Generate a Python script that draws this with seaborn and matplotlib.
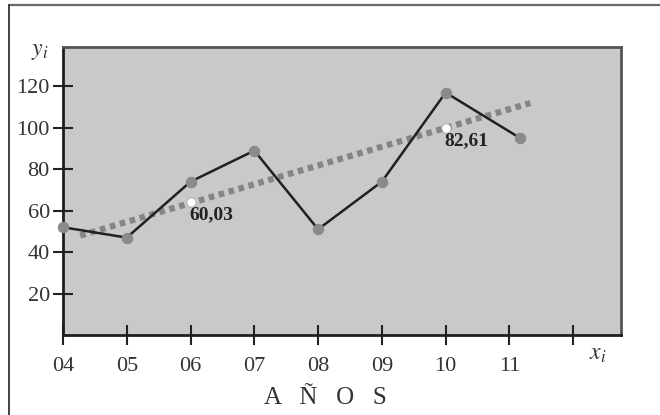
import numpy as np
import pandas as pd
import seaborn as sns
import matplotlib.pyplot as plt
from matplotlib.lines import Line2D

# observed values per year
years = [4, 5, 6, 7, 8, 9, 10, 11.17]
values = [52, 47, 74, 89, 51, 74, 117, 95]

# trend line (drawn ends) and the two estimated points
trend_x = [4.27, 11.33]
trend_y = [48, 112]
est_x = [6, 10]
est_y = [64, 100]
est_labels = ["60,03", "82,61"]

xticks = [4, 5, 6, 7, 8, 9, 10, 11, 12]
xtick_labels = ["04", "05", "06", "07", "08", "09", "10", "11", ""]
yticks = [20, 40, 60, 80, 100, 120]

sns.set_style("white")
plt.rcParams['font.family'] = ['Liberation Serif', 'DejaVu Serif']
plt.rcParams['mathtext.fontset'] = 'stix'

df = pd.DataFrame({"x": years, "y": values})
df_trend = pd.DataFrame({"x": trend_x, "y": trend_y})
df_est = pd.DataFrame({"x": est_x, "y": est_y})

fig = plt.figure(figsize=(6.6, 4.15), dpi=100)
ax = fig.add_axes([63 / 660, 1 - 335 / 415, 558 / 660, 288 / 415])
ax.set_facecolor("#c8c9cb")

sns.lineplot(data=df_trend, x="x", y="y", ax=ax, color="#858585", lw=4.5,
             linestyle=(0, (0.9, 0.75)), zorder=2)
sns.lineplot(data=df, x="x", y="y", ax=ax, color="#202020", lw=1.8, zorder=3,
             marker="o", markersize=7.5, markerfacecolor="#8a8a8a",
             markeredgecolor="#8a8a8a", clip_on=False)
sns.scatterplot(data=df_est, x="x", y="y", ax=ax, color="white", s=45,
                edgecolor="#9a9a9a", linewidth=0.5, zorder=4)

for xv, yv, lab in zip(est_x, est_y, est_labels):
    ax.text(xv + 0.33, yv - 2, lab, ha="center", va="top", fontsize=14,
            fontweight="bold", color="#222222")

ax.set_xlim(4, 12.75)
ax.set_ylim(0, 139)
ax.set_xticks(xticks)
ax.set_xticklabels(xtick_labels)
ax.set_yticks(yticks)
ax.set_xlabel("")
ax.set_ylabel("")
ax.tick_params(axis="x", bottom=True, direction="inout", length=14, width=1.5,
               color="#222222", labelsize=16, pad=9, labelcolor="#333333")
ax.tick_params(axis="y", left=True, direction="inout", length=15, width=1.5,
               color="#222222", labelsize=16, pad=2, labelcolor="#333333")

for side in ["left", "bottom"]:
    ax.spines[side].set_color("#1e1e1e")
    ax.spines[side].set_linewidth(2)
for side in ["top", "right"]:
    ax.spines[side].set_color("#555555")
    ax.spines[side].set_linewidth(2)
    ax.spines[side].set_visible(True)

fig.text(40 / 660, 1 - 52 / 415, r"$y_i$", fontsize=17, ha="center",
         va="center", color="#333333")
fig.text(598 / 660, 1 - 354 / 415, r"$x_i$", fontsize=17, ha="center",
         va="center", color="#333333")
fig.text(325 / 660, 1 - 398 / 415, "A   Ñ   O   S", fontsize=18,
         ha="center", va="center", color="#333333")

# outer frame: only top and left edges show
fig.add_artist(Line2D([9 / 660, 1], [1 - 5.5 / 415] * 2, color="#6a6a6a",
                      lw=1.6, transform=fig.transFigure))
fig.add_artist(Line2D([9 / 660] * 2, [0, 1 - 5.5 / 415], color="#333333",
                      lw=1.3, transform=fig.transFigure))

fig.savefig("out.png", dpi=100)
